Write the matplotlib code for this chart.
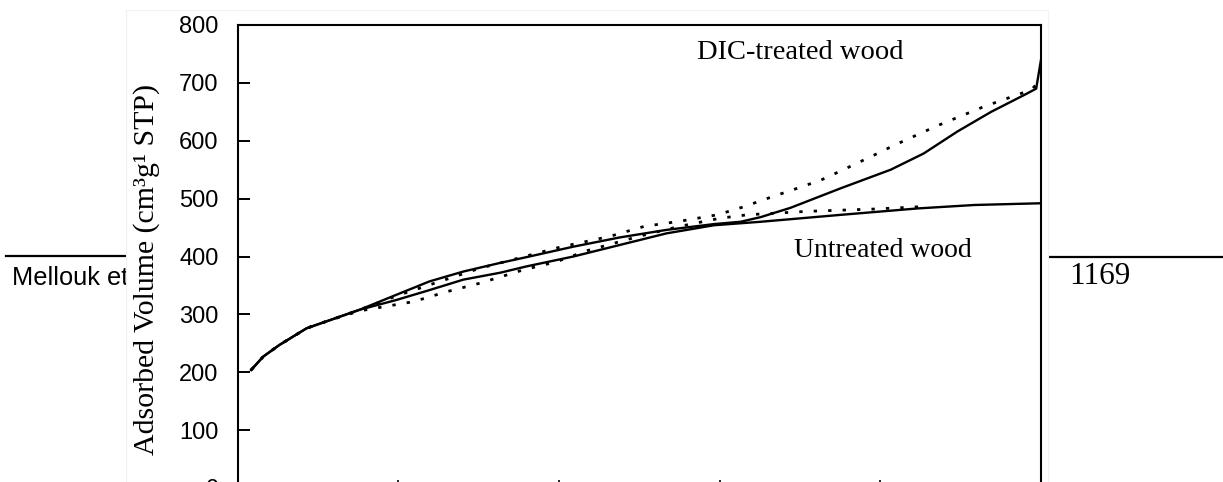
import matplotlib
matplotlib.use("Agg")
import matplotlib.pyplot as plt
from matplotlib.patches import Rectangle
from matplotlib.lines import Line2D

# relative pressure / adsorbed volume
dic_x = [0.017, 0.032, 0.052, 0.086, 0.115, 0.152, 0.198, 0.239, 0.281, 0.327, 0.360,
         0.418, 0.476, 0.534, 0.593, 0.626, 0.651, 0.688, 0.751, 0.813, 0.854, 0.896,
         0.938, 0.979, 0.994, 1.0]
dic_y = [204, 227, 247, 276, 290, 308, 334, 357, 374, 389, 399,
         417, 433, 446, 456, 460, 468, 484, 518, 550, 578, 616,
         650, 679, 690, 740]

dic_fit_x = [0.017, 0.032, 0.052, 0.086, 0.115, 0.152, 0.2, 0.3, 0.401, 0.464, 0.506,
             0.551, 0.597, 0.628, 0.667, 0.697, 0.726, 0.751, 0.792, 0.817, 0.871,
             0.929, 0.988, 0.996]
dic_fit_y = [204, 227, 247, 276, 290, 308, 333, 379, 416, 435, 452,
             461, 472, 485, 504, 518, 532, 548, 575, 592, 626,
             659, 688, 700]

untr_x = [0.017, 0.032, 0.052, 0.086, 0.115, 0.152, 0.198, 0.239, 0.281, 0.327, 0.360,
          0.418, 0.476, 0.534, 0.593, 0.651, 0.751, 0.846, 0.917, 1.0]
untr_y = [204, 227, 247, 276, 290, 308, 325, 342, 360, 372, 383,
          400, 420, 440, 454, 460, 472, 483, 489, 492]

untr_fit_x = [0.017, 0.032, 0.052, 0.086, 0.115, 0.152, 0.177, 0.219, 0.26, 0.302, 0.356,
              0.397, 0.435, 0.5, 0.55, 0.6, 0.634, 0.709, 0.792, 0.85]
untr_fit_y = [204, 227, 247, 276, 290, 306, 312, 322, 339, 354, 377,
              391, 410, 435, 452, 466, 472, 478, 482, 486]

y_ticks = [0, 100, 200, 300, 400, 500, 600, 700, 800]
x_ticks = [0.2, 0.4, 0.6, 0.8]

fig = plt.figure(figsize=(12.23, 4.82), dpi=100)
W, H = 1223.0, 482.0

# page header behind the pasted figure
fig.add_artist(Line2D([6 / W, 126 / W], [1 - 256 / H, 1 - 256 / H], color="black", lw=1.6, zorder=-3))
fig.add_artist(Line2D([1050 / W, 1.0], [1 - 257 / H, 1 - 257 / H], color="black", lw=1.6, zorder=-3))
fig.text(12 / W, 1 - 278 / H, "Mellouk et", fontsize=18.3, family="Liberation Sans",
         va="center", ha="left", zorder=-3)
fig.text(1069 / W, 1 - 276 / H, "1169", fontsize=22.5, family="Liberation Serif",
         va="center", ha="left", zorder=-3)
fig.add_artist(Rectangle((126 / W, 0), (1048 - 126) / W, 1 - 10 / H, transform=fig.transFigure,
                         facecolor="white", edgecolor="#f2f2f2", lw=0.8, zorder=-2))

ax = fig.add_axes([237.5 / W, -6 / H, (1041 - 237.5) / W, (488 - 25) / H])

ax.plot(dic_x, dic_y, color="black", lw=1.7)
ax.plot(untr_x, untr_y, color="black", lw=1.7)
ax.plot(dic_fit_x, dic_fit_y, color="black", lw=2.0, linestyle=(0, (1.2, 4.0)))
ax.plot(untr_fit_x, untr_fit_y, color="black", lw=2.0, linestyle=(0, (1.2, 4.0)))

ax.text(0.572, 753, "DIC-treated wood", fontsize=20.5, family="Liberation Serif", va="center", ha="left")
ax.text(0.692, 411, "Untreated wood", fontsize=20, family="Liberation Serif", va="center", ha="left")

ax.set_xlim(0, 1)
ax.set_ylim(0, 800)
ax.set_yticks(y_ticks)
ax.set_yticklabels([str(v) for v in y_ticks], family="Liberation Sans", fontsize=17)
ax.set_xticks(x_ticks)
ax.set_xticklabels([])
ax.tick_params(axis="y", direction="in", length=8.5, width=1.4, pad=13.5)
ax.tick_params(axis="x", direction="in", length=6, width=1.2)
for s in ax.spines.values():
    s.set_linewidth(1.5)

ax.set_ylabel("Adsorbed Volume (cm³g¹ STP)", family="Liberation Serif", fontsize=21.5)
ax.yaxis.set_label_coords(-0.097, 0.473)

fig.savefig("out.png", dpi=100)
